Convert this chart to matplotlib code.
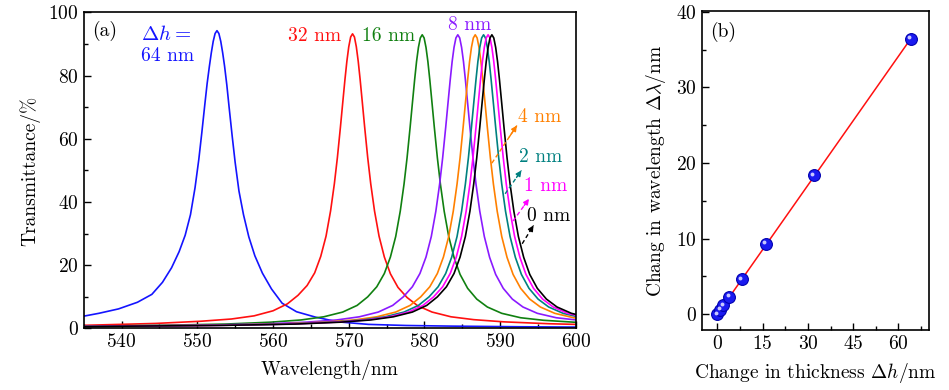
import matplotlib
matplotlib.use("Agg")
import matplotlib.pyplot as plt
from matplotlib.ticker import MultipleLocator
import matplotlib.transforms as mtransforms

plt.rcParams['font.family'] = 'serif'
plt.rcParams['font.serif'] = ['cmr10', 'DejaVu Serif']
plt.rcParams['mathtext.fontset'] = 'cm'
plt.rcParams['axes.unicode_minus'] = False
plt.rcParams['axes.formatter.use_mathtext'] = True

# ---------------- data: panel (a) transmission spectra ----------------
T_narrow = [0.6, 0.7, 1.0, 1.4, 2.0, 2.7, 3.7, 5.2, 7.3, 10.0, 13.2, 17.4, 22.6, 29.1, 37.1, 45.7,
            54.0, 63.6, 71.2, 78.7, 84.4, 88.9, 91.9, 92.9, 91.9, 88.9, 84.4, 78.7, 71.2, 63.6, 54.0,
            45.7, 37.1, 29.1, 22.5, 17.1, 12.7, 9.3, 6.8, 4.8, 3.4, 2.6, 2.0]

wl_0nm = [535, 538.9, 553.9, 562.9, 568.9, 572.9, 575.9, 578.4, 580.3, 581.7, 582.9, 583.9, 584.7,
          585.4, 586.0, 586.5, 586.9, 587.3, 587.6, 587.9, 588.15, 588.4, 588.65, 588.9, 589.15,
          589.4, 589.65, 589.9, 590.2, 590.5, 590.9, 591.3, 591.8, 592.4, 593.1, 593.9, 594.9,
          596.1, 597.5, 599.4, 601.9, 604.9, 608.9]
T_0nm = T_narrow

wl_1nm = [535, 538.4, 553.4, 562.4, 568.4, 572.4, 575.4, 577.9, 579.8, 581.2, 582.4, 583.4, 584.2,
          584.9, 585.5, 586.0, 586.4, 586.8, 587.1, 587.4, 587.65, 587.9, 588.15, 588.4, 588.65,
          588.9, 589.15, 589.4, 589.7, 590.0, 590.4, 590.8, 591.3, 591.9, 592.6, 593.4, 594.4,
          595.6, 597.0, 598.9, 601.4, 604.4, 608.4]
T_1nm = T_narrow

wl_2nm = [535, 537.8, 552.8, 561.8, 567.8, 571.8, 574.8, 577.3, 579.2, 580.6, 581.8, 582.8, 583.6,
          584.3, 584.9, 585.4, 585.8, 586.2, 586.5, 586.8, 587.05, 587.3, 587.55, 587.8, 588.05,
          588.3, 588.55, 588.8, 589.1, 589.4, 589.8, 590.2, 590.7, 591.3, 592.0, 592.8, 593.8,
          595.0, 596.4, 598.3, 600.8, 603.8, 607.8]
T_2nm = T_narrow

wl_4nm = [535, 536.7, 551.7, 560.7, 566.7, 570.7, 573.7, 576.2, 578.1, 579.5, 580.7, 581.7, 582.5,
          583.2, 583.8, 584.3, 584.7, 585.1, 585.4, 585.7, 585.95, 586.2, 586.45, 586.7, 586.95,
          587.2, 587.45, 587.7, 588.0, 588.3, 588.7, 589.1, 589.6, 590.2, 590.9, 591.7, 592.7,
          593.9, 595.3, 597.2, 599.7, 602.7, 606.7]
T_4nm = T_narrow

wl_8nm = [535, 549.4, 558.4, 564.4, 568.4, 571.4, 573.9, 575.8, 577.2, 578.4, 579.4, 580.2, 580.9,
          581.5, 582.0, 582.4, 582.8, 583.1, 583.4, 583.65, 583.9, 584.15, 584.4, 584.65, 584.9,
          585.15, 585.4, 585.7, 586.0, 586.4, 586.8, 587.3, 587.9, 588.6, 589.4, 590.4, 591.6,
          593.0, 594.9, 597.4, 600.4, 604.4]
T_8nm = [0.7, 1.0, 1.4, 2.0, 2.7, 3.7, 5.2, 7.3, 10.0, 13.2, 17.4, 22.6, 29.1, 37.1, 45.7,
         54.0, 63.6, 71.2, 78.7, 84.4, 88.9, 91.9, 92.9, 91.9, 88.9, 84.4, 78.7, 71.2, 63.6, 54.0,
         45.7, 37.1, 29.1, 22.5, 17.1, 12.7, 9.3, 6.8, 4.8, 3.4, 2.6, 2.0]

wl_16nm = [535, 544.7, 553.7, 559.7, 563.7, 566.7, 569.2, 571.1, 572.5, 573.7, 574.7, 575.5, 576.2,
           576.8, 577.3, 577.7, 578.1, 578.4, 578.7, 578.95, 579.2, 579.45, 579.7, 579.95, 580.2,
           580.45, 580.7, 581.0, 581.3, 581.7, 582.1, 582.6, 583.2, 583.9, 584.7, 585.7, 586.9,
           588.3, 590.2, 592.7, 595.7, 599.7, 605.0]
T_16nm = [0.7, 1.0, 1.4, 2.0, 2.7, 3.7, 5.2, 7.3, 10.0, 13.2, 17.4, 22.6, 29.1, 37.1, 45.7,
          54.0, 63.6, 71.2, 78.7, 84.4, 88.9, 91.9, 92.9, 91.9, 88.9, 84.4, 78.7, 71.2, 63.6, 54.0,
          45.7, 37.1, 29.1, 22.5, 17.1, 12.7, 9.3, 6.8, 4.8, 3.4, 2.6, 2.0, 1.5]

wl_32nm = [535, 544.5, 550.5, 554.5, 557.5, 560.0, 561.9, 563.3, 564.5, 565.5, 566.3, 567.0, 567.6,
           568.1, 568.5, 568.9, 569.2, 569.5, 569.75, 570.0, 570.25, 570.5, 570.75, 571.0, 571.25,
           571.5, 571.8, 572.1, 572.5, 572.9, 573.4, 574.0, 574.7, 575.5, 576.5, 577.7, 579.1,
           581.0, 583.5, 586.5, 590.5, 596.5, 600]
T_32nm = [1.0, 1.6, 2.3, 3.0, 4.0, 5.6, 7.8, 10.5, 13.6, 17.6, 22.8, 29.2, 37.2, 45.8, 54.1, 63.7,
          71.3, 78.8, 84.5, 89.1, 92.2, 93.2, 92.2, 89.1, 84.5, 78.8, 71.3, 63.7, 54.1, 45.8, 37.2,
          29.2, 22.6, 17.3, 13.0, 9.8, 7.2, 5.2, 3.7, 2.8, 2.1, 1.5, 1.3]

wl_64nm = [535, 537.0, 539.6, 542.1, 544.0, 545.4, 546.6, 547.6, 548.4, 549.1, 549.7, 550.2, 550.6,
           551.0, 551.3, 551.6, 551.85, 552.1, 552.35, 552.6, 552.85, 553.1, 553.35, 553.6, 553.9,
           554.2, 554.6, 555.0, 555.5, 556.1, 556.8, 557.6, 558.6, 559.8, 561.2, 563.1, 565.6,
           568.6, 572.6, 577.6, 583.6, 592.6, 600]
T_64nm = [3.9, 4.8, 6.2, 8.3, 10.8, 14.6, 19.2, 24.3, 29.5, 36, 44.5, 53.5, 62, 71, 77.5, 83, 87.2,
          90.8, 93.3, 94.2, 93.3, 90.8, 87.2, 83, 77, 70, 61, 52.5, 43.5, 36, 29, 23, 17.5, 12.5,
          8.0, 5.3, 3.6, 2.1, 1.3, 0.95, 0.75, 0.55, 0.45]

# ---------------- data: panel (b) peak shift ----------------
dh = [0, 1, 2, 4, 8, 16, 32, 64]
dlam = [0, 0.6, 1.2, 2.3, 4.6, 9.3, 18.4, 36.4]
fit_x = [0, 64]
fit_y = [0.0, 36.4]

# ---------------- styles ----------------
series = [
    (wl_64nm, T_64nm, '#1414ff'),
    (wl_32nm, T_32nm, '#ff1010'),
    (wl_16nm, T_16nm, '#108010'),
    (wl_8nm, T_8nm, '#8a1aff'),
    (wl_4nm, T_4nm, '#ff8000'),
    (wl_2nm, T_2nm, '#008080'),
    (wl_1nm, T_1nm, '#ff00ff'),
    (wl_0nm, T_0nm, '#000000'),
]

fig = plt.figure(figsize=(9.49, 3.90), dpi=100)
ax = fig.add_axes([0.0882, 0.1577, 0.5187, 0.8107])
axb = fig.add_axes([0.7394, 0.1538, 0.2395, 0.8180])

FS = 14

for x, y, c in series:
    ax.plot(x, y, color=c, lw=1.2, clip_on=True, solid_joinstyle='round')

ax.set_xlim(535, 600)
ax.set_ylim(0, 100)
ax.xaxis.set_major_locator(MultipleLocator(10))
ax.xaxis.set_minor_locator(MultipleLocator(5))
ax.yaxis.set_major_locator(MultipleLocator(20))
ax.yaxis.set_minor_locator(MultipleLocator(10))
ax.set_xlabel('Wavelength/nm', fontsize=FS, labelpad=6)
ax.set_ylabel('Transmittance/%', fontsize=FS, labelpad=6)

for a in (ax, axb):
    a.tick_params(which='both', direction='in', top=False, right=False, labelsize=FS)
    a.tick_params(which='major', length=5, width=1)
    a.tick_params(which='minor', length=3, width=1)
    for s in a.spines.values():
        s.set_linewidth(1.2)

# annotations panel (a)
ax.text(0.043, 0.94, '(a)', transform=ax.transAxes, fontsize=FS, ha='center', va='center')
ax.text(545.9, 92.9, r'$\Delta h =$', color='#1414ff', fontsize=FS + 1, ha='center', va='center')
ax.text(546.1, 86.3, '64 nm', color='#1414ff', fontsize=FS, ha='center', va='center')
ax.text(565.5, 92.6, '32 nm', color='#ff1010', fontsize=FS, ha='center', va='center')
ax.text(575.3, 92.6, '16 nm', color='#108010', fontsize=FS, ha='center', va='center')
ax.text(586.0, 96.0, '8 nm', color='#8a1aff', fontsize=FS, ha='center', va='center')

arrows = [
    ('4 nm', '#ff8000', (588.9, 52.3), (592.2, 64.2), (592.3, 66.8)),
    ('2 nm', '#008080', (590.65, 42.6), (592.8, 50.0), (592.5, 54.2)),
    ('1 nm', '#ff00ff', (591.7, 34.0), (593.8, 41.0), (593.1, 45.0)),
    ('0 nm', '#000000', (592.9, 26.8), (594.4, 32.6), (593.6, 35.5)),
]
for label, c, p0, p1, pt in arrows:
    ax.plot([p0[0], p1[0]], [p0[1], p1[1]], ls=(0, (3, 2)), color=c, lw=1.0)
    hx = p0[0] + 0.7 * (p1[0] - p0[0])
    hy = p0[1] + 0.7 * (p1[1] - p0[1])
    ax.annotate('', xy=p1, xytext=(hx, hy),
                arrowprops=dict(arrowstyle='-|>', color=c, lw=1.0, mutation_scale=8,
                                shrinkA=0, shrinkB=0))
    ax.text(pt[0], pt[1], label, color=c, fontsize=FS, ha='left', va='center')

# ---------------- panel (b) ----------------
axb.plot(fit_x, fit_y, color='#ff1010', lw=1.1, zorder=2)
axb.plot(dh, dlam, ls='none', marker='o', ms=8.5, mfc='#1a1af0', mec='#0000b0', mew=0.8, zorder=3)
hl = mtransforms.offset_copy(axb.transData, fig=fig, x=-1.5, y=1.5, units='dots')
axb.plot(dh, dlam, ls='none', marker='o', ms=2.8, mfc='#c8c8ff', mec='none', transform=hl, zorder=4)

axb.set_xlim(-5.2, 70.1)
axb.set_ylim(-2.1, 40.1)
axb.xaxis.set_major_locator(MultipleLocator(15))
axb.xaxis.set_minor_locator(MultipleLocator(7.5))
axb.yaxis.set_major_locator(MultipleLocator(10))
axb.yaxis.set_minor_locator(MultipleLocator(5))
axb.set_xlabel(r'Change in thickness $\Delta h$/nm', fontsize=FS, labelpad=6)
axb.set_ylabel(r'Chang in wavelength $\Delta\lambda$/nm', fontsize=FS, labelpad=6)
axb.text(0.095, 0.935, '(b)', transform=axb.transAxes, fontsize=FS, ha='center', va='center')

fig.savefig('out.png', dpi=100)
